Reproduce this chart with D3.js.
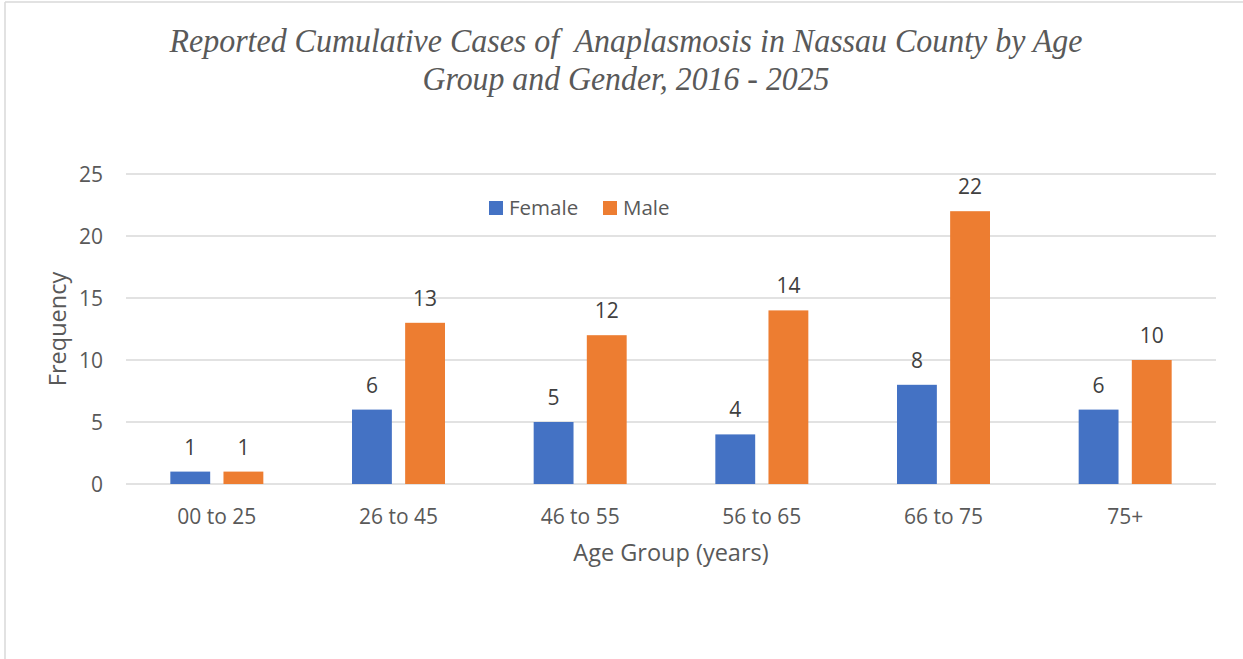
<!DOCTYPE html>
<html>
<head>
<meta charset="utf-8">
<script src="https://cdn.jsdelivr.net/npm/d3@7"></script>
<style>
  body { margin: 0; background: #fff; }
  text { font-family: "Open Sans", "Noto Sans", sans-serif; fill: #595959; }
</style>
</head>
<body>
<div id="container"></div>
<script>
const width = 1243;
const height = 659;

const ageGroups = ["00 to 25", "26 to 45", "46 to 55", "56 to 65", "66 to 75", "75+"];
const female = [1, 6, 5, 4, 8, 6];
const male = [1, 13, 12, 14, 22, 10];
const seriesNames = ["Female", "Male"];
const seriesColors = ["#4472c4", "#ed7d31"];
const yTicks = [0, 5, 10, 15, 20, 25];

const margin = { top: 174, right: 27, bottom: 175, left: 126 };

const svg = d3.select("#container")
  .append("svg")
  .attr("width", width)
  .attr("height", height);

// outer frame (only top and left visible)
svg.append("line").attr("x1", 5).attr("x2", width).attr("y1", 2).attr("y2", 2)
  .attr("stroke", "#d9d9d9").attr("stroke-width", 1.5);
svg.append("line").attr("x1", 5).attr("x2", 5).attr("y1", 2).attr("y2", height)
  .attr("stroke", "#d9d9d9").attr("stroke-width", 1.5);

// title
const title = svg.append("g")
  .style("font-family", "'Liberation Serif', 'DejaVu Serif', serif")
  .style("font-style", "italic")
  .style("font-size", "33px");
title.append("text").attr("x", 626).attr("y", 52).attr("text-anchor", "middle")
  .attr("textLength", 913).attr("lengthAdjust", "spacingAndGlyphs")
  .style("font-family", "inherit")
  .style("white-space", "pre")
  .text("Reported Cumulative Cases of  Anaplasmosis in Nassau County by Age");
title.append("text").attr("x", 626).attr("y", 90).attr("text-anchor", "middle")
  .attr("textLength", 407).attr("lengthAdjust", "spacingAndGlyphs")
  .style("font-family", "inherit")
  .text("Group and Gender, 2016 - 2025");

const x = d3.scaleBand()
  .domain(ageGroups)
  .range([margin.left, width - margin.right]);

const x1 = d3.scaleBand()
  .domain(seriesNames)
  .range([0, 93])
  .paddingInner(0.25);

const y = d3.scaleLinear()
  .domain([0, 25])
  .range([height - margin.bottom, margin.top]);

// gridlines
svg.append("g")
  .selectAll("line")
  .data(yTicks)
  .enter()
  .append("line")
  .attr("x1", margin.left)
  .attr("x2", width - margin.right)
  .attr("y1", d => y(d))
  .attr("y2", d => y(d))
  .attr("stroke", "#d9d9d9")
  .attr("stroke-width", 1.5);

// y axis
const yAxis = svg.append("g")
  .attr("transform", `translate(${margin.left - 23},0)`)
  .call(d3.axisLeft(y).tickValues(yTicks).tickSize(0).tickPadding(0));
yAxis.select(".domain").remove();
yAxis.selectAll("text").style("font-size", "21px").attr("dy", "0.35em");

// x axis
const xAxis = svg.append("g")
  .attr("transform", `translate(0,${height - margin.bottom})`)
  .call(d3.axisBottom(x).tickSize(0).tickPadding(0));
xAxis.select(".domain").remove();
xAxis.selectAll("text").style("font-size", "21px").attr("y", 40).attr("dy", 0);

// bars
const rows = ageGroups.map((g, i) => ({ group: g, values: [female[i], male[i]] }));
const groups = svg.append("g")
  .selectAll("g")
  .data(rows)
  .enter()
  .append("g")
  .attr("transform", d => `translate(${x(d.group) + x.bandwidth() / 2 - 46.5},0)`);

groups.selectAll("rect")
  .data(d => d.values.map((v, j) => ({ name: seriesNames[j], value: v, color: seriesColors[j] })))
  .enter()
  .append("rect")
  .attr("x", d => x1(d.name))
  .attr("width", x1.bandwidth())
  .attr("y", d => y(d.value))
  .attr("height", d => y(0) - y(d.value))
  .attr("fill", d => d.color);

groups.selectAll("text.lbl")
  .data(d => d.values.map((v, j) => ({ name: seriesNames[j], value: v })))
  .enter()
  .append("text")
  .attr("class", "lbl")
  .attr("x", d => x1(d.name) + x1.bandwidth() / 2)
  .attr("y", d => y(d.value) - 17)
  .attr("text-anchor", "middle")
  .style("font-size", "21px")
  .style("fill", "#404040")
  .text(d => d.value);

// legend
const legend = svg.append("g");
const legendX = [489, 603];
seriesNames.forEach((name, i) => {
  legend.append("rect")
    .attr("x", legendX[i]).attr("y", 201)
    .attr("width", 14).attr("height", 14)
    .attr("fill", seriesColors[i]);
  legend.append("text")
    .attr("x", legendX[i] + 20).attr("y", 215)
    .style("font-size", "20.5px")
    .text(name);
});

// axis titles
svg.append("text")
  .attr("x", 671).attr("y", 561)
  .attr("text-anchor", "middle")
  .style("font-size", "23.5px")
  .text("Age Group (years)");

svg.append("text")
  .attr("transform", "translate(66,329) rotate(-90)")
  .attr("text-anchor", "middle")
  .style("font-size", "23.5px")
  .text("Frequency");
</script>
</body>
</html>
